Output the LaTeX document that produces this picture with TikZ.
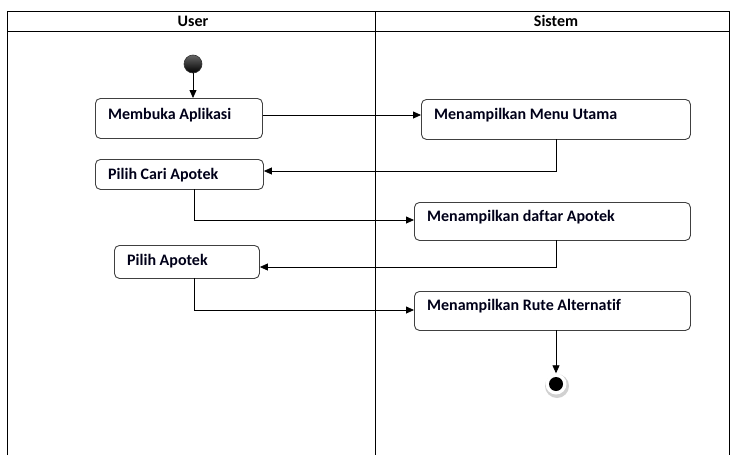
\documentclass[tikz,border=0pt]{standalone}
\usepackage{fontspec}
\setmainfont{Carlito}[BoldFont={Carlito Bold}, Ligatures=NoCommon]
\usetikzlibrary{arrows.meta}
\begin{document}
\begin{tikzpicture}[x=1pt,y=-1pt,
  act/.style={draw=black!75, line width=0.9pt, rounded corners=5pt, fill=white, anchor=north west, inner sep=0pt},
  txt/.style={anchor=west, inner sep=0pt, font=\bfseries\fontsize{16}{18}\selectfont, text=black!90!blue},
  flow/.style={draw=black, line width=0.8pt, -{Triangle[length=8pt,width=7pt]}},
  lane/.style={draw=black, line width=0.9pt},
  hdr/.style={font=\bfseries\fontsize{16}{18}\selectfont, inner sep=0pt}
]
\useasboundingbox (0,0) rectangle (730,455);
% swimlanes
\draw[lane] (7,455) -- (7,11) -- (729,11) -- (729,455);
\draw[lane] (7,31) -- (729,31);
\draw[lane] (375,11) -- (375,455);
\node[hdr] (hu) at (193,21) {User};
\node[hdr] (hs) at (556,21) {Sistem};
% start
\node[circle, minimum size=18pt, inner sep=0pt, draw=black!80, top color=black!60, bottom color=black, line width=0.6pt] (start) at (193,64) {};
% activities
\node[act, minimum width=167pt, minimum height=40pt] (a1) at (95,98) {};
\node[txt] (t1) at (108,115) {Membuka Aplikasi};
\node[act, minimum width=269pt, minimum height=40pt] (b1) at (421,99) {};
\node[txt] (u1) at (434,115) {Menampilkan Menu Utama};
\node[act, minimum width=168pt, minimum height=30pt] (a2) at (95,159) {};
\node[txt] (t2) at (108,175) {Pilih Cari Apotek};
\node[act, minimum width=276pt, minimum height=38pt] (b2) at (414,202) {};
\node[txt] (u2) at (427,217) {Menampilkan daftar Apotek};
\node[act, minimum width=145pt, minimum height=33pt] (a3) at (114,245) {};
\node[txt] (t3) at (127,261) {Pilih Apotek};
\node[act, minimum width=276pt, minimum height=39pt] (b3) at (414,291) {};
\node[txt] (u3) at (427,306) {Menampilkan Rute Alternatif};
% end
\node[circle, minimum size=24pt, inner sep=0pt, fill=black!18] (endsh) at (557,386) {};
\node[circle, minimum size=21pt, inner sep=0pt, fill=white] (endr) at (556,384) {};
\node[circle, minimum size=14pt, inner sep=0pt, fill=black] (endn) at (556,384) {};
% flows
\draw[flow] (start) -- (a1.north -| start);
\draw[flow] (a1.east |- t1) -- (b1.west |- t1);
\draw[flow] (556,139) -- (556,171) -- (a2.east |- 0,171);
\draw[flow] (194,189) -- (194,220) -- (b2.west |- 0,220);
\draw[flow] (556,240) -- (556,267) -- (a3.east |- 0,267);
\draw[flow] (194,278) -- (194,310) -- (b3.west |- 0,310);
\draw[flow] (556,330) -- (endr.north);
\end{tikzpicture}
\end{document}
